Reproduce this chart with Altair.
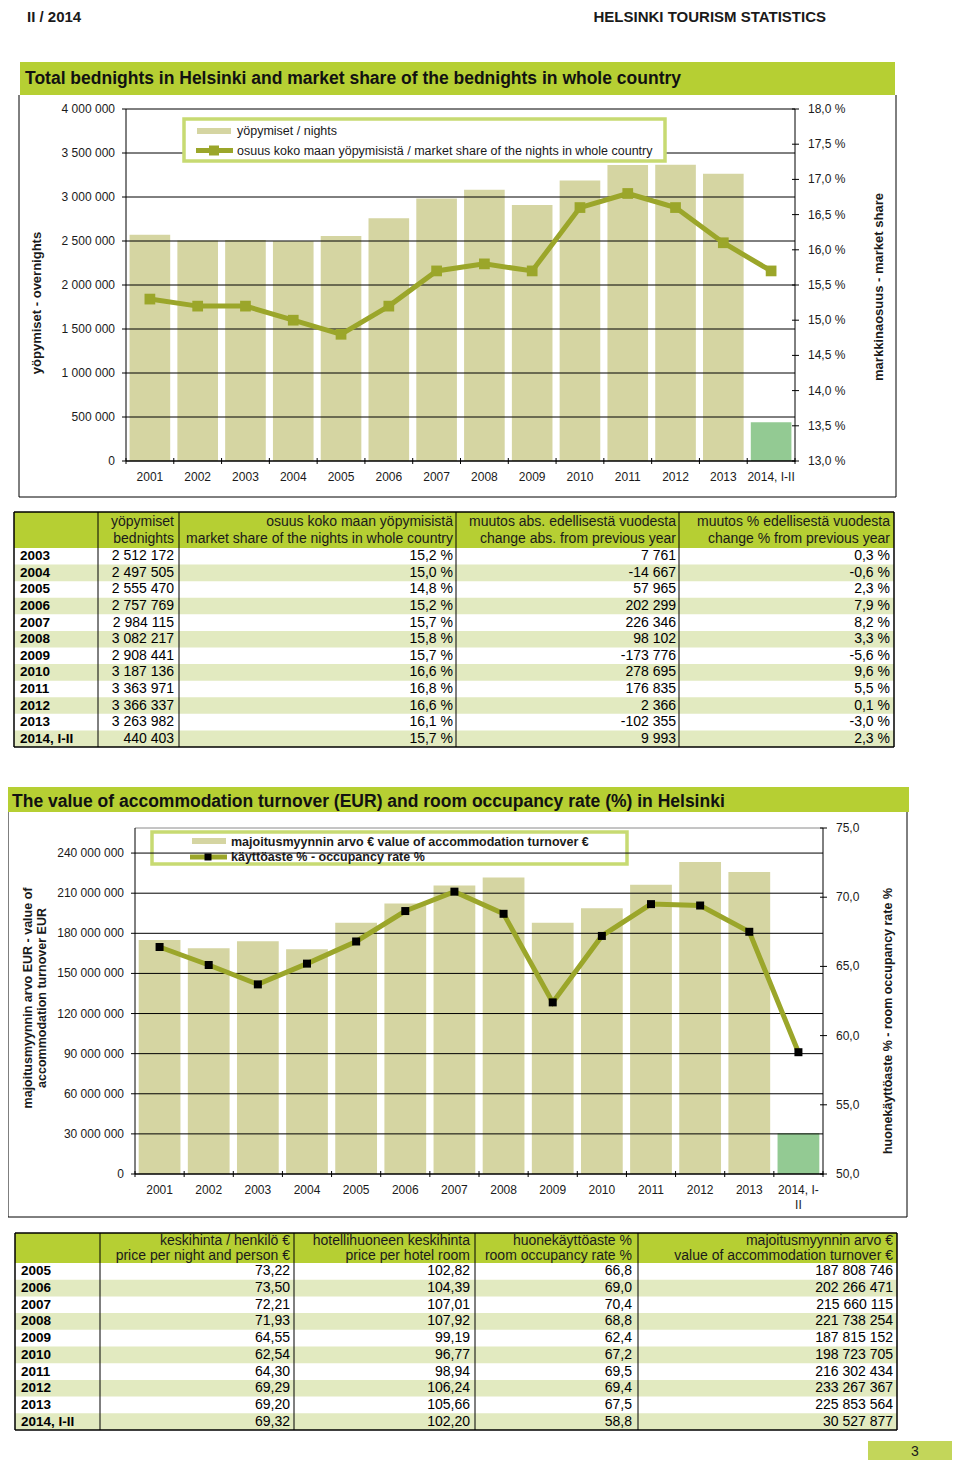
import altair as alt
import pandas as pd

# ---------------- data ----------------
years = ["2001", "2002", "2003", "2004", "2005", "2006", "2007", "2008", "2009",
         "2010", "2011", "2012", "2013", "2014, I-II"]
nights = [2570000, 2504411, 2512172, 2497505, 2555470, 2757769, 2984115, 3082217,
          2908441, 3187136, 3363971, 3366337, 3263982, 440403]
share = [15.3, 15.2, 15.2, 15.0, 14.8, 15.2, 15.7, 15.8, 15.7, 16.6, 16.8, 16.6, 16.1, 15.7]

nights_ticks = [0, 500000, 1000000, 1500000, 2000000, 2500000, 3000000, 3500000, 4000000]
nights_tick_labels = ["0", "500 000", "1 000 000", "1 500 000", "2 000 000", "2 500 000",
                      "3 000 000", "3 500 000", "4 000 000"]
share_ticks = [13.0, 13.5, 14.0, 14.5, 15.0, 15.5, 16.0, 16.5, 17.0, 17.5, 18.0]
share_tick_labels = ["13,0 %", "13,5 %", "14,0 %", "14,5 %", "15,0 %", "15,5 %", "16,0 %",
                     "16,5 %", "17,0 %", "17,5 %", "18,0 %"]

t1_years = ["2003", "2004", "2005", "2006", "2007", "2008", "2009", "2010", "2011",
            "2012", "2013", "2014, I-II"]
t1_nights = [2512172, 2497505, 2555470, 2757769, 2984115, 3082217, 2908441, 3187136,
             3363971, 3366337, 3263982, 440403]
t1_share = [15.2, 15.0, 14.8, 15.2, 15.7, 15.8, 15.7, 16.6, 16.8, 16.6, 16.1, 15.7]
change_abs = [7761, -14667, 57965, 202299, 226346, 98102, -173776, 278695, 176835, 2366,
              -102355, 9993]
change_pct = [0.3, -0.6, 2.3, 7.9, 8.2, 3.3, -5.6, 9.6, 5.5, 0.1, -3.0, 2.3]
t1_headers = [["yöpymiset", "bednights"],
              ["osuus koko maan yöpymisistä", "market share of the nights in whole country"],
              ["muutos abs. edellisestä vuodesta", "change abs. from previous year"],
              ["muutos % edellisestä vuodesta", "change % from previous year"]]

turnover = [175000000, 168750000, 174000000, 168000000, 187808746, 202266471, 215660115,
            221738254, 187815152, 198723705, 216302434, 233267367, 225853564, 30527877]
occupancy = [66.4, 65.1, 63.7, 65.2, 66.8, 69.0, 70.4, 68.8, 62.4, 67.2, 69.5, 69.4, 67.5, 58.8]
year_labels2 = ["2001", "2002", "2003", "2004", "2005", "2006", "2007", "2008", "2009",
                "2010", "2011", "2012", "2013", "2014, I-\nII"]
turnover_ticks = [0, 30000000, 60000000, 90000000, 120000000, 150000000, 180000000,
                  210000000, 240000000]
turnover_tick_labels = ["0", "30 000 000", "60 000 000", "90 000 000", "120 000 000",
                        "150 000 000", "180 000 000", "210 000 000", "240 000 000"]
occ_ticks = [50, 55, 60, 65, 70, 75]
occ_tick_labels = ["50,0", "55,0", "60,0", "65,0", "70,0", "75,0"]

t2_years = ["2005", "2006", "2007", "2008", "2009", "2010", "2011", "2012", "2013", "2014, I-II"]
price_person = [73.22, 73.50, 72.21, 71.93, 64.55, 62.54, 64.30, 69.29, 69.20, 69.32]
price_room = [102.82, 104.39, 107.01, 107.92, 99.19, 96.77, 98.94, 106.24, 105.66, 102.20]
t2_occupancy = [66.8, 69.0, 70.4, 68.8, 62.4, 67.2, 69.5, 69.4, 67.5, 58.8]
t2_turnover = [187808746, 202266471, 215660115, 221738254, 187815152, 198723705, 216302434,
               233267367, 225853564, 30527877]
t2_headers = [["keskihinta / henkilö €", "price per night and person €"],
              ["hotellihuoneen keskihinta", "price per hotel room"],
              ["huonekäyttöaste %", "room occupancy rate %"],
              ["majoitusmyynnin arvo €", "value of accommodation turnover €"]]

# ---------------- styles ----------------
GREEN = "#b6cf33"
ROW_ALT = "#e2eac0"
BAR = "#d5d5a2"
BAR_LAST = "#93ca93"
LINE = "#9ba62a"
LEG_BORDER = "#c7da72"
TXT = "#1a1a1a"
FONT = "Liberation Sans, Arial, sans-serif"

OFF = 8
W, H = 944, 1452


def P(v):
    return v - OFF


ONE = pd.DataFrame({"a": [0]})


def fmt_int(v):
    return f"{v:,}".replace(",", " ")


def fmt_dec(v, d):
    return f"{v:.{d}f}".replace(".", ",")


def rect(x0, x1, y0, y1, **mk):
    return alt.Chart(ONE).mark_rect(**mk).encode(
        x=alt.value(P(x0)), x2=alt.value(P(x1)), y=alt.value(P(y0)), y2=alt.value(P(y1)))


def seg(x0, y0, x1, y1, color="#000", w=1.0):
    return alt.Chart(ONE).mark_rule(color=color, strokeWidth=w).encode(
        x=alt.value(P(x0)), x2=alt.value(P(x1)), y=alt.value(P(y0)), y2=alt.value(P(y1)))


def txt(s, x, y, size=12, bold=False, align="left", font=FONT, angle=None, color=TXT,
        baseline="middle"):
    kw = dict(text=s, fontSize=size, align=align, baseline=baseline, font=font, color=color)
    if bold:
        kw["fontWeight"] = "bold"
    if angle is not None:
        kw["angle"] = angle
    return alt.Chart(ONE).mark_text(**kw).encode(x=alt.value(P(x)), y=alt.value(P(y)))


layers = []

# ---------------- page header ----------------
layers.append(txt("II / 2014", 27, 10, size=15, bold=True, baseline="top"))
layers.append(txt("HELSINKI TOURISM STATISTICS", 826, 10, size=15, bold=True, align="right",
                  baseline="top"))


# ---------------- combo chart helper ----------------
def combo(cats, xlabels, bar_vals, line_vals, L, R, T, B, ldom, rdom, lticks, llabels,
          rticks, rlabels, marker_color, marker_size, label_y):
    xs = alt.Scale(domain=cats, range=[P(L), P(R)], paddingInner=0.15, paddingOuter=0.075)
    yl = alt.Scale(domain=ldom, range=[P(B), P(T)], nice=False, zero=False)
    yr = alt.Scale(domain=rdom, range=[P(B), P(T)], nice=False, zero=False)
    d = pd.DataFrame({"cat": cats, "lab": xlabels, "bar": bar_vals, "line": line_vals})
    dl = pd.DataFrame({"v": lticks, "t": llabels})
    dr = pd.DataFrame({"v": rticks, "t": rlabels})
    db = pd.DataFrame({"k": list(range(len(cats) + 1))})
    xb = alt.Scale(domain=[0, len(cats)], range=[P(L), P(R)], nice=False, zero=False)

    bars = alt.Chart(d).mark_bar(opacity=1).encode(
        x=alt.X("cat:N", scale=xs, axis=None),
        y=alt.Y("bar:Q", scale=yl, axis=None),
        y2=alt.datum(0),
        color=alt.when(alt.datum.cat == cats[-1]).then(alt.value(BAR_LAST)).otherwise(alt.value(BAR)),
    )
    grid = alt.Chart(dl).mark_rule(color="#000", strokeWidth=1).encode(
        y=alt.Y("v:Q", scale=yl, axis=None), x=alt.value(P(L)), x2=alt.value(P(R)))
    lticks_m = alt.Chart(dl).mark_rule(color="#000", strokeWidth=1).encode(
        y=alt.Y("v:Q", scale=yl, axis=None), x=alt.value(P(L - 4)), x2=alt.value(P(L)))
    llab = alt.Chart(dl).mark_text(align="right", baseline="middle", fontSize=12, font=FONT,
                                   color=TXT).encode(
        y=alt.Y("v:Q", scale=yl, axis=None), x=alt.value(P(L - 11)), text="t:N")
    rticks_m = alt.Chart(dr).mark_rule(color="#000", strokeWidth=1).encode(
        y=alt.Y("v:Q", scale=yr, axis=None), x=alt.value(P(R - 3)), x2=alt.value(P(R + 4)))
    rlab = alt.Chart(dr).mark_text(align="left", baseline="middle", fontSize=12, font=FONT,
                                   color=TXT).encode(
        y=alt.Y("v:Q", scale=yr, axis=None), x=alt.value(P(R + 13)), text="t:N")
    bticks = alt.Chart(db).mark_rule(color="#000", strokeWidth=1).encode(
        x=alt.X("k:Q", scale=xb, axis=None), y=alt.value(P(B - 3)), y2=alt.value(P(B + 3)))
    xlab = alt.Chart(d).mark_text(align="center", baseline="top", fontSize=12, font=FONT,
                                  color=TXT, lineBreak="\n", lineHeight=15).encode(
        x=alt.X("cat:N", scale=xs, axis=None), y=alt.value(P(label_y)), text="lab:N")
    line = alt.Chart(d).mark_line(color=LINE, strokeWidth=5).encode(
        x=alt.X("cat:N", scale=xs, axis=None), y=alt.Y("line:Q", scale=yr, axis=None))
    marks = alt.Chart(d).mark_square(size=marker_size, color=marker_color, opacity=1).encode(
        x=alt.X("cat:N", scale=xs, axis=None), y=alt.Y("line:Q", scale=yr, axis=None))
    return [bars, grid], [lticks_m, llab, rticks_m, rlab, bticks, xlab,
                          seg(L, T, L, B), seg(R, T, R, B + 1), seg(L, B, R, B), line, marks]


# ---------------- chart 1 ----------------
layers.append(rect(20, 895, 62, 95, fill=GREEN))
layers.append(txt("Total bednights in Helsinki and market share of the bednights in whole country",
                  25, 79, size=17.5, bold=True, color="#111"))
layers += [seg(19, 95, 19, 497), seg(896, 95, 896, 497), seg(19, 497, 896, 497)]

c1a, c1b = combo(years, years, nights, share, 126, 795, 109, 461, [0, 4000000], [13, 18],
                 nights_ticks, nights_tick_labels, share_ticks, share_tick_labels,
                 LINE, 115, 472)
layers += c1a
# legend 1 (drawn over grid)
layers.append(rect(184, 665, 119, 161, fill="white", stroke=LEG_BORDER, strokeWidth=3.5))
layers.append(rect(197, 231, 128, 134, fill=BAR))
layers.append(txt("yöpymiset / nights", 237, 131, size=12.5))
layers.append(seg(196, 150.5, 233, 150.5, color=LINE, w=5))
layers.append(rect(209, 219, 145.5, 155.5, fill=LINE))
layers.append(txt("osuus koko maan yöpymisistä / market share of the nights in whole country",
                  237, 151, size=12.5))
layers += c1b
layers.append(txt("yöpymiset - overnights", 37, 303, size=13, bold=True, angle=270,
                  align="center"))
layers.append(txt("markkinaosuus - market share", 879, 287, size=13, bold=True, angle=270,
                  align="center"))


# ---------------- table helper ----------------
def table(tyears, cols, headers, edges, text_rights, top, hbot, bot, hy1, hy2, year_x):
    out = []
    x0, x1 = edges[0], edges[-1]
    ys = alt.Scale(domain=tyears, range=[P(hbot), P(bot)], paddingInner=0, paddingOuter=0)
    df = pd.DataFrame({"year": tyears, **{f"c{i}": c for i, c in enumerate(cols)}})
    shade = df[[i % 2 == 1 for i in range(len(df))]]
    out.append(rect(x0, x1, top, hbot, fill=GREEN))
    out.append(alt.Chart(shade).mark_rect(fill=ROW_ALT).encode(
        y=alt.Y("year:N", scale=ys, axis=None), x=alt.value(P(x0)), x2=alt.value(P(x1))))
    for e in edges[1:-1]:
        out.append(seg(e, top, e, bot))
    out += [seg(x0, top, x1, top, w=1.5), seg(x0, bot, x1, bot, w=1.5),
            seg(x0, top, x0, bot, w=1.5), seg(x1, top, x1, bot, w=1.5)]
    out.append(alt.Chart(df).mark_text(align="left", baseline="middle", fontSize=13.5, font=FONT,
                                       fontWeight="bold", color="#000").encode(
        y=alt.Y("year:N", scale=ys, axis=None), x=alt.value(P(year_x)), text="year:N"))
    for i, (h, r) in enumerate(zip(headers, text_rights)):
        out.append(txt(h[0], r, hy1, size=14, align="right"))
        out.append(txt(h[1], r, hy2, size=14, align="right"))
        out.append(alt.Chart(df).mark_text(align="right", baseline="middle", fontSize=14,
                                           font=FONT, color="#000").encode(
            y=alt.Y("year:N", scale=ys, axis=None), x=alt.value(P(r)), text=f"c{i}:N"))
    return out


t1_cols = [[fmt_int(v) for v in t1_nights],
           [fmt_dec(v, 1) + " %" for v in t1_share],
           [fmt_int(v) for v in change_abs],
           [fmt_dec(v, 1) + " %" for v in change_pct]]
layers += table(t1_years, t1_cols, t1_headers, [14, 98, 179, 456, 679, 894],
                [174, 453, 676, 890], 512, 548, 747, 522, 539, 20)

# ---------------- chart 2 ----------------
layers.append(rect(7, 909, 787, 812, fill=GREEN))
layers.append(txt("The value of accommodation turnover (EUR) and room occupancy rate (%) in Helsinki",
                  12, 802, size=17.5, bold=True, color="#111"))
layers += [seg(8, 812, 8, 1217), seg(907, 812, 907, 1217), seg(8, 1217, 907, 1217)]
# legend 2 (grid drawn over it)
layers.append(rect(152, 627, 832, 864, fill="white", stroke=LEG_BORDER, strokeWidth=3.5))
layers.append(rect(192, 226, 838, 844, fill=BAR))
layers.append(txt("majoitusmyynnin arvo € value of accommodation turnover €", 231, 842,
                  size=12.5, bold=True))
layers.append(seg(190, 857, 227, 857, color=LINE, w=5))
layers.append(rect(204.5, 211.5, 853.5, 860.5, fill="#000"))
layers.append(txt("käyttöaste % -  occupancy rate %", 231, 857, size=12.5, bold=True))

c2a, c2b = combo(years, year_labels2, turnover, occupancy, 135, 823, 828, 1174,
                 [0, 258750000], [50, 75], turnover_ticks, turnover_tick_labels,
                 occ_ticks, occ_tick_labels, "#000", 64, 1185)
layers += c2a
layers.append(seg(135, 828, 823, 828, color="#8a8a8a"))
layers += c2b
layers.append(txt("majoitusmyynnin arvo EUR - value of", 28, 998, size=12.5, bold=True,
                  angle=270, align="center"))
layers.append(txt("accommodation turnover EUR", 42, 998, size=12.5, bold=True, angle=270,
                  align="center"))
layers.append(txt("huonekäyttöaste  %  - room occupancy rate %", 888, 1021, size=12.5,
                  bold=True, angle=270, align="center"))

# ---------------- table 2 ----------------
t2_cols = [[fmt_dec(v, 2) for v in price_person],
           [fmt_dec(v, 2) for v in price_room],
           [fmt_dec(v, 1) for v in t2_occupancy],
           [fmt_int(v) for v in t2_turnover]]
layers += table(t2_years, t2_cols, t2_headers, [15, 100, 294, 475, 638, 897],
                [290, 470, 632, 893], 1233, 1263, 1430, 1241, 1256, 21)

# ---------------- page number ----------------
layers.append(rect(868, 952, 1441, 1460, fill="#c3d65a"))
layers.append(txt("3", 911, 1452, size=14))

chart = alt.layer(*layers).resolve_scale(x="independent", y="independent").properties(
    width=W, height=H, padding=0, background="white",
    autosize=alt.AutoSizeParams(type="none"),
).configure_view(stroke=None)

chart.save("out.html", embed_options={"renderer": "svg", "actions": False})
